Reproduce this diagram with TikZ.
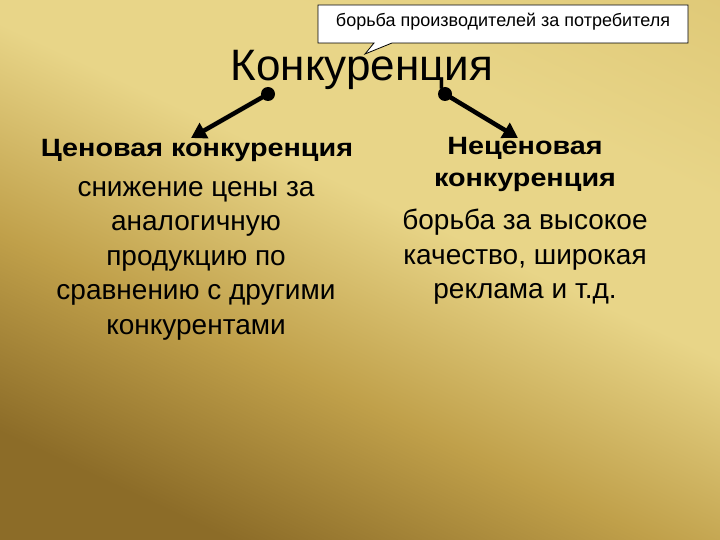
\documentclass[tikz,border=0pt]{standalone}
\usepackage{fontspec}
\setmainfont{Liberation Sans}
\usetikzlibrary{arrows.meta}
\definecolor{gA}{RGB}{140,108,40}
\definecolor{gB}{RGB}{192,160,74}
\definecolor{gC}{RGB}{232,213,136}
\definecolor{gD}{RGB}{214,188,102}
\pgfdeclareverticalshading{goldbg}{100bp}{color(0bp)=(gA); color(25bp)=(gA); color(40bp)=(gB); color(56bp)=(gC); color(68bp)=(gC); color(100bp)=(gD)}
\tikzset{
  bodytext/.style={font=\fontsize{28}{34.5}\selectfont, align=center, inner sep=0pt},
  headtext/.style={font=\bfseries\fontsize{25}{34}\selectfont, align=center, inner sep=0pt},
  dotnode/.style={circle, fill=black, minimum size=14pt, inner sep=0pt},
  conn/.style={line width=4.5pt, -{Triangle[length=15pt,width=17pt]}}
}
\newcommand{\widehead}[1]{\scalebox{1.15}[1]{#1}}
\begin{document}
\begin{tikzpicture}[x=1pt,y=-1pt]
\useasboundingbox (0,0) rectangle (720,540);
\fill[shading=goldbg, shading angle=-25] (0,0) rectangle (720,540);
% callout
\draw[fill=white, line width=0.8pt] (318,5) -- (688,5) -- (688,43) -- (392,43) -- (365,54) -- (374,43) -- (318,43) -- cycle;
\node[font=\fontsize{18}{20}\selectfont, inner sep=0pt] (callout) at (503,22) {борьба производителей за потребителя};
% title
\node[font=\fontsize{44}{50}\selectfont, inner sep=0pt] (title) at (362,70) {Конкуренция};
\node[dotnode] (dl) at (268,94) {};
\node[dotnode] (dr) at (445,94) {};
\coordinate (al) at (191,138);
\coordinate (ar) at (518,138);
\draw[conn] (dl.center) -- (al);
\draw[conn] (dr.center) -- (ar);
% left
\node[headtext] (lh) at (197,150) {\widehead{Ценовая конкуренция}};
\node[bodytext, anchor=north] (lb) at (196,181) {снижение цены за\\аналогичную\\продукцию по\\сравнению с другими\\конкурентами};
% right
\node[headtext] (rh1) at (525,148) {\widehead{Неценовая}};
\node[headtext] (rh2) at (525,182) {\widehead{конкуренция}};
\node[bodytext, anchor=north] (rb) at (525,209) {борьба за высокое\\качество, широкая\\реклама и т.д.};
\end{tikzpicture}
\end{document}
